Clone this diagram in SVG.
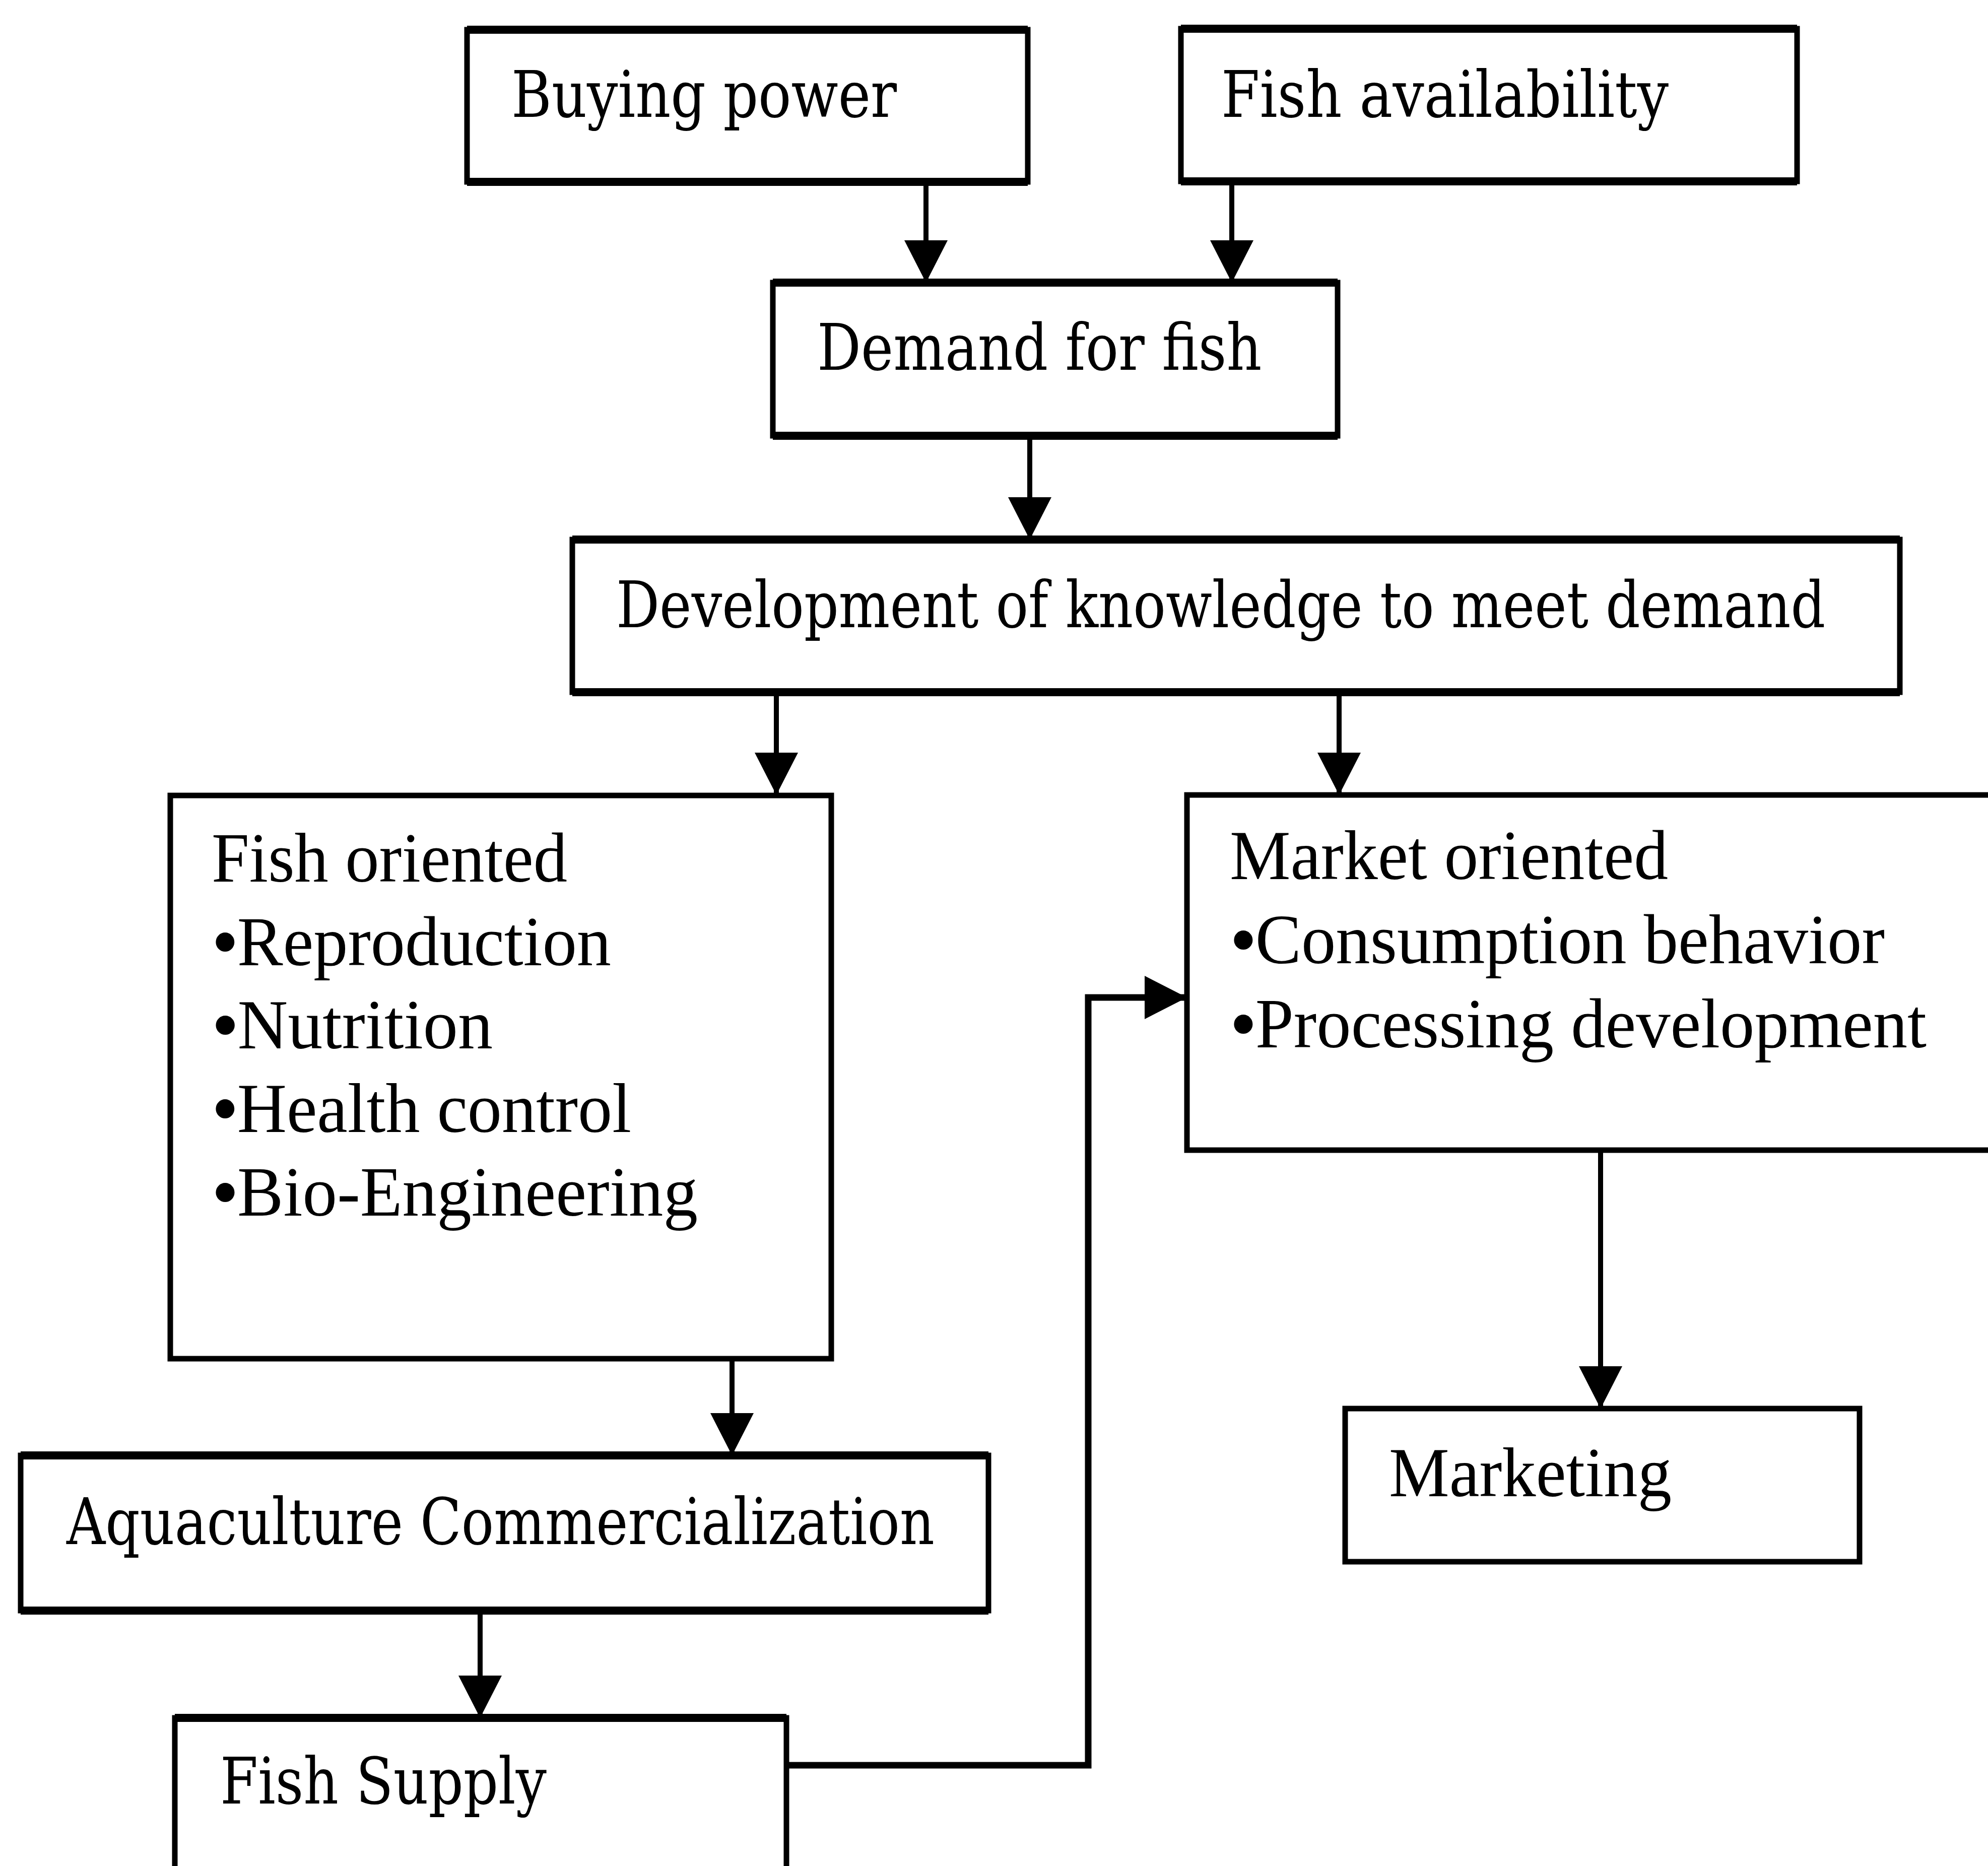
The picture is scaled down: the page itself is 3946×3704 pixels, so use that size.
<svg xmlns="http://www.w3.org/2000/svg" width="3946" height="3704" viewBox="0 0 3946 3704">
  <defs>
    <style>
      .box { fill: #ffffff; stroke: #000000; stroke-width: 11; }
      .edge { fill: none; stroke: #000000; stroke-width: 16; }
      .slab { font-family: "DejaVu Serif", "Liberation Serif", serif; font-size: 128px; fill: #000000; }
      .roman { font-family: "Liberation Serif", "Times New Roman", serif; font-size: 140px; fill: #000000; }
      .dot { font-weight: bold; }
      .link { fill: none; stroke: #000000; stroke-width: 10; }
      .loop { fill: none; stroke: #000000; stroke-width: 13; stroke-linejoin: miter; }
    </style>
    <marker id="arrow" markerUnits="userSpaceOnUse" markerWidth="90" markerHeight="90" refX="84" refY="43" orient="auto">
      <path d="M0,0 L84,43 L0,86 Z" fill="#000000"/>
    </marker>
  </defs>
  <rect width="3946" height="3704" fill="#ffffff"/>

  <!-- connectors -->
  <g id="connectors">
    <path class="link" d="M1838,361 V561" marker-end="url(#arrow)"/>
    <path class="link" d="M2445,360 V561" marker-end="url(#arrow)"/>
    <path class="link" d="M2044,865 V1071" marker-end="url(#arrow)"/>
    <path class="link" d="M1541,1374 V1578" marker-end="url(#arrow)"/>
    <path class="link" d="M2658,1374 V1578" marker-end="url(#arrow)"/>
    <path class="link" d="M1453,2697 V2889" marker-end="url(#arrow)"/>
    <path class="link" d="M953,3197 V3410" marker-end="url(#arrow)"/>
    <path class="link" d="M3177,2283 V2796" marker-end="url(#arrow)"/>
    <path class="loop" d="M1561,3504 H2160 V1980 H2356" marker-end="url(#arrow)"/>
  </g>

  <!-- top row: drivers of demand -->
  <g id="buying-power">
    <rect class="box" x="927" y="59" width="1113" height="302"/>
    <path class="edge" d="M927,59 H2040 M927,361 H2040"/>
    <text class="slab" transform="translate(1015,232) scale(0.82,1)" textLength="933" lengthAdjust="spacingAndGlyphs">Buying power</text>
  </g>
  <g id="fish-availability">
    <rect class="box" x="2344" y="57" width="1223" height="303"/>
    <path class="edge" d="M2344,57 H3567 M2344,360 H3567"/>
    <text class="slab" transform="translate(2424,232) scale(0.82,1)" textLength="1083" lengthAdjust="spacingAndGlyphs">Fish availability</text>
  </g>

  <g id="demand">
    <rect class="box" x="1534" y="561" width="1121" height="304"/>
    <path class="edge" d="M1534,561 H2655 M1534,865 H2655"/>
    <text class="slab" transform="translate(1622,734) scale(0.82,1)" textLength="1076" lengthAdjust="spacingAndGlyphs">Demand for fish</text>
  </g>

  <g id="knowledge">
    <rect class="box" x="1136" y="1071" width="2635" height="303"/>
    <path class="edge" d="M1136,1071 H3771 M1136,1374 H3771"/>
    <text class="slab" transform="translate(1223,1245) scale(0.82,1)" textLength="2927" lengthAdjust="spacingAndGlyphs">Development of knowledge to meet demand</text>
  </g>

  <!-- research branches -->
  <g id="fish-oriented">
    <rect class="box" x="338" y="1579" width="1312" height="1118"/>
    <text class="roman" x="420" y="1750" textLength="706" lengthAdjust="spacingAndGlyphs">Fish oriented</text>
    <text class="roman" x="423" y="1916" textLength="790" lengthAdjust="spacingAndGlyphs"><tspan class="dot">•</tspan>Reproduction</text>
    <text class="roman" x="423" y="2081" textLength="555" lengthAdjust="spacingAndGlyphs"><tspan class="dot">•</tspan>Nutrition</text>
    <text class="roman" x="423" y="2247" textLength="830" lengthAdjust="spacingAndGlyphs"><tspan class="dot">•</tspan>Health control</text>
    <text class="roman" x="423" y="2413" textLength="962" lengthAdjust="spacingAndGlyphs"><tspan class="dot">•</tspan>Bio-Engineering</text>
  </g>

  <g id="market-oriented">
    <rect class="box" x="2356" y="1578" width="1620" height="705"/>
    <text class="roman" x="2441" y="1745" textLength="870" lengthAdjust="spacingAndGlyphs">Market oriented</text>
    <text class="roman" x="2444" y="1912" textLength="1297" lengthAdjust="spacingAndGlyphs"><tspan class="dot">•</tspan>Consumption behavior</text>
    <text class="roman" x="2444" y="2079" textLength="1380" lengthAdjust="spacingAndGlyphs"><tspan class="dot">•</tspan>Processing development</text>
  </g>

  <g id="aquaculture">
    <rect class="box" x="41" y="2889" width="1921" height="308"/>
    <path class="edge" d="M41,2889 H1962 M41,3197 H1962"/>
    <text class="slab" transform="translate(132,3065) scale(0.82,1)" textLength="2101" lengthAdjust="spacingAndGlyphs">Aquaculture Commercialization</text>
  </g>

  <g id="fish-supply">
    <rect class="box" x="347" y="3410" width="1214" height="320"/>
    <path class="edge" d="M347,3410 H1561"/>
    <text class="slab" transform="translate(437,3580) scale(0.82,1)" textLength="790" lengthAdjust="spacingAndGlyphs">Fish Supply</text>
  </g>

  <g id="marketing">
    <rect class="box" x="2670" y="2796" width="1021" height="304"/>
    <text class="roman" x="2757" y="2970" textLength="561" lengthAdjust="spacingAndGlyphs">Marketing</text>
  </g>
</svg>
